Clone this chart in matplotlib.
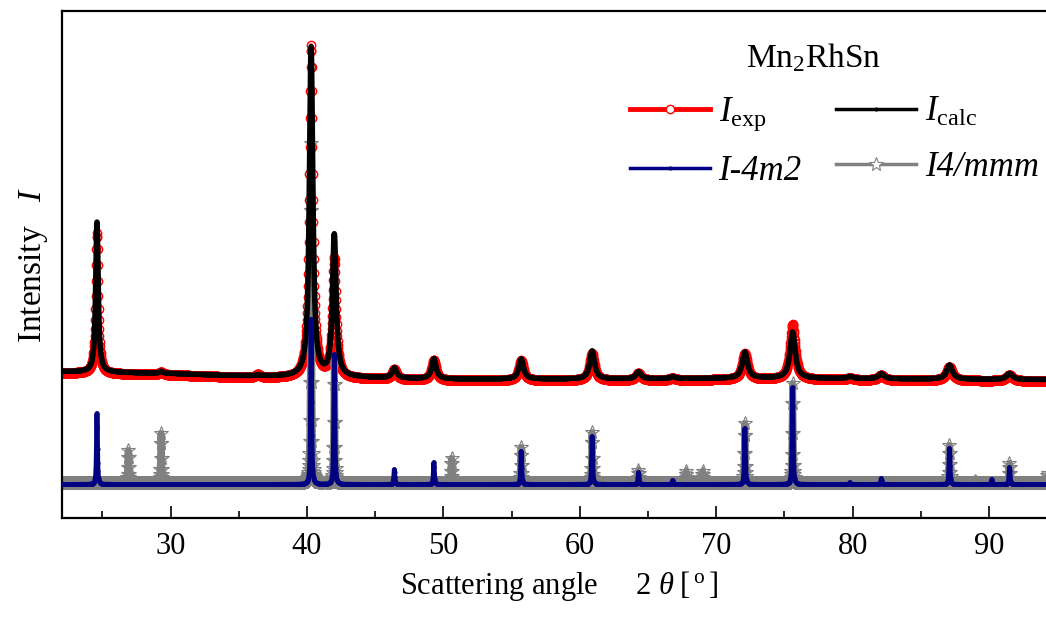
import numpy as np
import matplotlib
matplotlib.use("Agg")
import matplotlib.pyplot as plt
from matplotlib.lines import Line2D

plt.rcParams.update({
    "font.family": "Liberation Serif",
    "mathtext.fontset": "custom",
    "mathtext.rm": "Liberation Serif",
    "mathtext.it": "Liberation Serif:italic",
    "mathtext.bf": "Liberation Serif:bold",
})

# ---- measured / refined pattern (arbitrary intensity units) ----
step = 0.02
theta_range = (22.0, 95.0)

# background anchors of the measured scan
bg_theta = [22, 26, 30, 34, 38, 44, 50, 56, 62, 68, 74, 80, 86, 92, 95]
bg_exp   = [145, 144, 143, 141, 140, 139, 137.5, 137.5, 137.5, 138, 138.5, 138, 137.5, 137, 137]
bg_calc  = [146.5, 145.5, 144.5, 142.5, 141.5, 140.5, 139, 139, 139, 139.5, 140, 139.5, 139, 138.5, 138.5]

# reflections of Mn2RhSn: position (deg), FWHM (deg), intensities
peak_pos  = [24.6, 29.3, 36.4, 40.3, 42.0, 46.4, 49.3, 55.7, 60.9, 64.3, 66.8, 72.1, 75.6, 79.8, 82.1, 87.1, 91.5]
peak_fwhm = [0.22, 0.30, 0.30, 0.30, 0.32, 0.38, 0.38, 0.40, 0.42, 0.42, 0.42, 0.45, 0.45, 0.48, 0.48, 0.50, 0.52]
I_exp_h   = [141, 3, 3, 332, 119, 10, 20, 20, 27, 7, 2, 26, 55, 2, 5, 14, 6]
I_calc_h  = [150, 2, 1, 329, 141, 10, 20, 20, 28, 7, 2, 26, 46, 2, 5, 14, 6]

# simulated phase patterns (sharp lines)
phase_fwhm = 0.08
t4m2_base = 33.5
t4m2_pos  = [24.6, 40.3, 42.0, 46.4, 49.3, 55.7, 60.9, 64.3, 66.8, 72.1, 75.6, 79.8, 82.1, 87.1, 90.2, 91.5]
t4m2_h    = [71, 165, 130, 15, 22, 33, 48, 12, 4, 56, 97, 2, 6, 36, 5, 17]

mmm_base = 34.5
mmm_pos  = [26.9, 29.3, 40.3, 42.0, 50.6, 55.7, 60.9, 64.3, 67.8, 69.0, 72.1, 75.6, 87.1, 89.0, 91.5, 94.3]
mmm_h    = [33, 50, 340, 123, 25, 36, 51, 13, 12, 12, 60, 100, 38, 2, 20, 10]


def pseudo_voigt(x, x0, fwhm, eta):
    u = (x - x0) / (fwhm / 2.0)
    return eta / (1.0 + u ** 2) + (1.0 - eta) * np.exp(-np.log(2.0) * u ** 2)


def pattern(x, base, pos, heights, widths, eta):
    y = np.asarray(base, dtype=float) * np.ones_like(x)
    for p, h, w in zip(pos, heights, widths):
        y = y + h * pseudo_voigt(x, p, w, eta)
    return y


tt = np.arange(theta_range[0], theta_range[1] + step / 2, step)
y_exp = pattern(tt, np.interp(tt, bg_theta, bg_exp), peak_pos, I_exp_h, peak_fwhm, 0.95)
y_calc = pattern(tt, np.interp(tt, bg_theta, bg_calc), peak_pos, I_calc_h, peak_fwhm, 0.95)
y_4m2 = pattern(tt, t4m2_base, t4m2_pos, t4m2_h, [phase_fwhm] * len(t4m2_pos), 0.9)
y_mmm = pattern(tt, mmm_base, mmm_pos, mmm_h, [phase_fwhm] * len(mmm_pos), 0.9)

# ---- figure ----
W, H = 1046, 621
fig = plt.figure(figsize=(W / 100, H / 100), dpi=100)
px_per_deg = 13.64
ax = fig.add_axes([61.5 / W, (H - 518) / H, (theta_range[1] - theta_range[0]) * px_per_deg / W, 507 / H])

red, navy, grey = "#ff0000", "#000080", "#808080"

ax.plot(tt, y_exp, color=red, lw=3, marker="o", ms=6, mfc="none", mec=red, mew=1, zorder=1)
ax.plot(tt, y_mmm, color=grey, lw=5, marker="*", ms=10, mfc="none", mec=grey, mew=0.8, zorder=2)
ax.plot(tt, y_calc, color="black", lw=4, marker=".", ms=3, zorder=3)
ax.plot(tt, y_4m2, color=navy, lw=3.5, marker=".", ms=4, zorder=4)

ax.set_xlim(*theta_range)
ax.set_ylim(0, 507)

ax.set_xticks([30, 40, 50, 60, 70, 80, 90])
ax.set_xticks([25, 35, 45, 55, 65, 75, 85, 95], minor=True)
ax.set_yticks([])
ax.tick_params(axis="x", which="both", direction="in", top=False, labelsize=22, pad=10, width=1.2)
ax.tick_params(axis="x", which="major", length=9)
ax.tick_params(axis="x", which="minor", length=5)
for s in ax.spines.values():
    s.set_linewidth(1.6)

ax.set_xlabel(r"Scattering angle     2 $\theta\;[\,^{\rm o}\,]$", fontsize=22, labelpad=6)
ax.set_ylabel(r"Intensity   $I$", fontsize=24, labelpad=8)

handles = [
    Line2D([], [], color=red, lw=3.5, marker="o", ms=6, mfc="white", mec=red, mew=1),
    Line2D([], [], color=navy, lw=2.5, marker=".", ms=4),
    Line2D([], [], color="black", lw=2.5, marker=".", ms=4),
    Line2D([], [], color=grey, lw=2.5, marker="*", ms=10, mfc="white", mec=grey, mew=0.8),
]
labels = [r"$I_{\rm exp}$", "I-4m2", r"$I_{\rm calc}$", "I4/mmm"]
leg = fig.legend(handles, labels, ncol=2, frameon=False, fontsize=25,
                 loc="upper left", bbox_to_anchor=(630 / W, 1 - 96 / H),
                 borderpad=0, borderaxespad=0, handlelength=2.3, handletextpad=0.25,
                 columnspacing=1.0, labelspacing=0.62)
for t in leg.get_texts():
    if t.get_text() in ("I-4m2", "I4/mmm"):
        t.set_fontstyle("italic")

fig.text(813 / W, 1 - 67 / H, r"Mn$_2$RhSn", fontsize=24, ha="center", va="baseline")

fig.savefig("out.png", dpi=100)
